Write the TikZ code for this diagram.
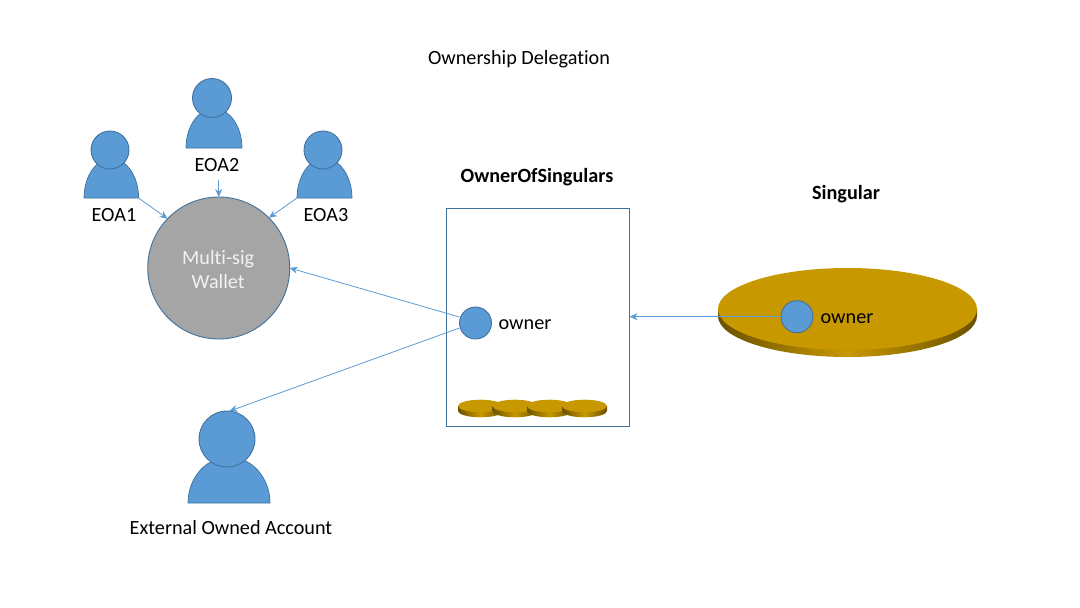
\documentclass[tikz,border=0pt]{standalone}
\usepackage{fontspec}
\setmainfont[Ligatures=NoCommon]{Carlito}
\usetikzlibrary{arrows.meta}
\definecolor{fillblue}{HTML}{5B9BD5}
\definecolor{edgeblue}{HTML}{41719C}
\definecolor{gold}{HTML}{C89800}
\definecolor{golddark}{HTML}{6A5000}
\definecolor{walletgray}{HTML}{A5A5A5}
\tikzset{
  x=1pt,y=-1pt,
  txt/.style={inner sep=0pt,outer sep=0pt,font=\fontsize{20.2}{24}\selectfont,text=black,align=center},
  txtb/.style={txt,font=\fontsize{20.2}{24}\selectfont\bfseries},
  round/.style={circle,draw=edgeblue,fill=fillblue,line width=0.9pt,inner sep=0pt,outer sep=0pt},
  bodyshape/.style={draw=edgeblue,fill=fillblue,line width=0.7pt},
  link/.style={draw=fillblue,line width=0.8pt,-{Stealth[length=8pt,width=7pt]}},
  disctop/.style={fill=gold},
  discside/.style={left color=golddark,right color=golddark,middle color=gold},
}
\newcommand{\persona}[7]{% name, head x, head y, r, base, half width, body x; body height in \pbh
  \path[bodyshape] (#7-#6,#5) arc[start angle=180,end angle=0,x radius=#6,y radius=-\pbh] -- cycle;
  \node[round,minimum size=#4*2] (#1) at (#2,#3) {};
}
\newcommand{\coin}[5]{% cx, cy, rx, ry, thickness
  \path[discside] (#1-#3,#2) -- (#1-#3,#2+#5) arc[start angle=180,end angle=360,x radius=#3,y radius=-#4] -- (#1+#3,#2) -- cycle;
  \path[disctop] (#1,#2) ellipse[x radius=#3,y radius=#4];
}
\begin{document}
\begin{tikzpicture}
\useasboundingbox (0,0) rectangle (1080,608);
\node[txt] (title) at (519,59.5) {Ownership Delegation};
\node[txtb] (oos) at (537,177.5) {OwnerOfSingulars};
\node[txtb] (sing) at (846,194.5) {Singular};
% people
\def\pbh{39.5}
\persona{eoaa}{110}{150}{19}{198}{27.3}{111.3}
\persona{eoac}{323}{150}{19}{198}{27.5}{324.5}
\persona{eoab}{212}{98}{19.5}{148}{28}{214}
\def\pbh{46}
\persona{ext}{227}{439}{28}{503}{41}{229}
\coordinate (eoaaedge) at (138.5,198);
\coordinate (eoacedge) at (297,198);
\coordinate (eoabedge) at (218.7,179.5);
\node[txt] (la) at (114,215) {EOA1};
\node[txt] (lb) at (217,165) {EOA2};
\node[txt] (lc) at (326,215) {EOA3};
\node[txt] (lext) at (231,528) {External Owned Account};
% wallet
\node[circle,draw=edgeblue,fill=walletgray,line width=0.9pt,minimum size=142pt,inner sep=0pt,outer sep=0pt] (wallet) at (218.7,268) {};
\node[txt,text=white!95!black] (wallett) at (218.2,270) {Multi-sig\\Wallet};
% box
\node[draw=edgeblue,line width=0.9pt,minimum width=183.5pt,minimum height=218pt,inner sep=0pt,outer sep=0pt] (box) at (537.75,317) {};
\coin{480.5}{406}{22.5}{6.3}{5}
\coin{515}{406}{22.5}{6.3}{5}
\coin{549.5}{406}{22.5}{6.3}{5}
\coin{584.5}{406}{22.5}{6.3}{5}
\node[round,minimum size=32pt] (own) at (475.5,323) {};
\node[txt] (ownt) at (525,325) {owner};
% big disc
\coin{847.5}{309}{129.5}{41}{7}
\node[round,minimum size=32pt] (sown) at (797,316.7) {};
\node[txt] (sownt) at (847,318.5) {owner};
% connectors
\draw[link] (eoaaedge) -- (wallet.136);
\draw[link] (eoabedge) -- (wallet.north);
\draw[link] (eoacedge) -- (wallet.45);
\draw[link] (own.west) ++(0,-6) -- (wallet.east);
\draw[link] (own.west) ++(0,5) -- (ext.85);
\draw[link] (sown.west) -- (box.east |- sown.west);
\end{tikzpicture}
\end{document}
